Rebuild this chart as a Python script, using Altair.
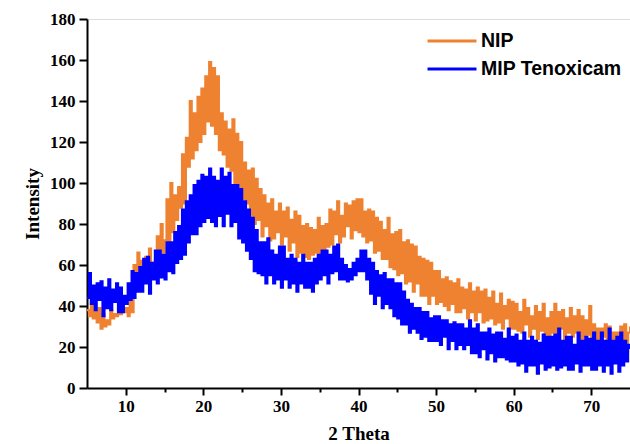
import altair as alt
import pandas as pd

# 2-theta grid: 5.00 .. 75.00 in steps of 0.25 degree
x_start = 5.0
x_step = 0.25

nip = [
    38, 35, 41, 34, 37, 32, 39, 29, 36, 30, 33, 31, 38, 34, 36, 35, 41, 36, 40, 37,
    39, 35, 43, 37, 60, 50, 66, 53, 62, 56, 64, 52, 68, 57, 61, 62, 74, 60, 80, 66,
    72, 92, 70, 100, 76, 94, 82, 98, 88, 114, 90, 122, 108, 140, 112, 134, 116, 142, 120, 146,
    124, 152, 130, 159, 128, 156, 124, 152, 116, 134, 114, 130, 108, 126, 106, 131, 100, 124, 96, 120,
    92, 110, 90, 106, 84, 107, 80, 102, 82, 97, 74, 94, 79, 90, 72, 92, 73, 86, 76, 90,
    70, 86, 74, 88, 67, 82, 71, 86, 64, 84, 66, 79, 64, 80, 63, 78, 65, 77, 66, 83,
    61, 79, 67, 80, 69, 87, 70, 86, 75, 91, 71, 84, 74, 90, 79, 89, 73, 91, 77, 92,
    76, 92, 74, 86, 71, 87, 72, 86, 66, 83, 67, 81, 63, 77, 63, 83, 59, 75, 58, 76,
    55, 77, 56, 71, 51, 72, 52, 70, 47, 69, 51, 64, 45, 63, 45, 62, 41, 61, 45, 57,
    41, 57, 42, 53, 40, 54, 38, 52, 41, 51, 37, 53, 37, 49, 39, 48, 34, 51, 37, 47,
    33, 49, 37, 47, 32, 48, 33, 44, 34, 47, 31, 41, 32, 46, 29, 40, 34, 43, 29, 42,
    29, 41, 28, 37, 27, 43, 31, 39, 25, 35, 29, 40, 24, 37, 28, 41, 26, 34, 25, 37,
    27, 41, 24, 37, 29, 38, 23, 34, 27, 39, 25, 35, 27, 38, 24, 35, 24, 33, 26, 40,
    23, 31, 22, 29, 19, 29, 25, 31, 21, 30, 19, 27, 21, 27, 20, 30, 18, 31, 18, 27,
    30,
]

mip = [
    44, 56, 41, 50, 38, 51, 43, 52, 35, 49, 39, 53, 38, 48, 42, 51, 37, 49, 37, 45,
    41, 51, 43, 57, 44, 56, 47, 59, 47, 63, 51, 64, 46, 61, 53, 67, 51, 67, 54, 65,
    53, 71, 57, 71, 56, 76, 61, 79, 63, 87, 65, 91, 71, 94, 75, 99, 75, 101, 79, 104,
    81, 103, 83, 107, 81, 103, 79, 101, 84, 107, 79, 103, 85, 105, 79, 99, 81, 99, 73, 97,
    71, 91, 67, 87, 63, 83, 57, 77, 56, 71, 55, 71, 51, 73, 55, 67, 51, 65, 53, 69,
    49, 69, 53, 63, 49, 65, 51, 63, 47, 61, 51, 65, 49, 61, 49, 61, 47, 63, 51, 65,
    53, 67, 55, 67, 51, 65, 56, 69, 57, 70, 53, 63, 53, 60, 52, 58, 53, 61, 55, 63,
    57, 67, 57, 67, 53, 63, 46, 61, 41, 57, 45, 55, 39, 56, 41, 53, 39, 53, 35, 51,
    34, 51, 31, 47, 31, 43, 27, 41, 29, 39, 27, 39, 24, 37, 25, 37, 23, 34, 23, 35,
    23, 35, 21, 33, 25, 33, 19, 31, 23, 32, 19, 31, 21, 31, 19, 29, 21, 33, 17, 29,
    17, 31, 15, 27, 19, 27, 14, 29, 17, 26, 13, 27, 15, 27, 15, 24, 14, 29, 13, 25,
    13, 26, 11, 23, 12, 27, 8, 23, 11, 25, 11, 23, 7, 22, 12, 26, 9, 25, 10, 25,
    11, 26, 9, 29, 10, 23, 11, 25, 9, 25, 9, 21, 12, 27, 8, 23, 11, 25, 11, 24,
    9, 27, 9, 23, 11, 27, 8, 23, 11, 29, 7, 23, 12, 25, 8, 27, 11, 23, 13, 21,
    19,
]

series_names = ["NIP", "MIP Tenoxicam"]
series_colors = ["#EF8230", "#0000FF"]
x_ticks = [10, 15, 20, 25, 30, 35, 40, 45, 50, 55, 60, 65, 70]
y_ticks = [0, 20, 40, 60, 80, 100, 120, 140, 160, 180]

theta = [round(x_start + x_step * i, 2) for i in range(len(nip))]
df_nip = pd.DataFrame({"theta": theta, "intensity": nip, "series": "NIP"})
df_mip = pd.DataFrame({"theta": theta, "intensity": mip, "series": "MIP Tenoxicam"})

serif = "Liberation Serif"
sans = "Liberation Sans"

x_enc = alt.X(
    "theta:Q",
    scale=alt.Scale(domain=[5, 75], nice=False, zero=False),
    axis=alt.Axis(
        title="2 Theta",
        values=x_ticks,
        labelExpr="datum.value % 10 === 0 ? datum.label : ''",
        tickSize={"condition": {"test": "datum.value % 10 === 0", "value": 7}, "value": 4},
        grid=False,
        labelFont=serif, labelFontWeight="bold", labelFontSize=17, labelColor="black",
        labelPadding=3,
        titleFont=serif, titleFontWeight="bold", titleFontSize=19, titleColor="black",
        titlePadding=10,
        domainColor="black", domainWidth=2, tickColor="black", tickWidth=2,
    ),
)
y_enc = alt.Y(
    "intensity:Q",
    scale=alt.Scale(domain=[0, 180], nice=False),
    axis=alt.Axis(
        title="Intensity",
        values=y_ticks,
        grid=False,
        tickSize=8,
        labelFont=serif, labelFontWeight="bold", labelFontSize=17, labelColor="black",
        labelPadding=4,
        titleFont=serif, titleFontWeight="bold", titleFontSize=19, titleColor="black",
        titlePadding=7,
        domainColor="black", domainWidth=2, tickColor="black", tickWidth=2,
    ),
)
color_enc = alt.Color(
    "series:N",
    scale=alt.Scale(domain=series_names, range=series_colors),
    legend=alt.Legend(
        title=None,
        orient="none",
        legendX=339,
        legendY=8,
        symbolType="stroke",
        symbolSize=2401,
        symbolStrokeWidth=3,
        clipHeight=28,
        labelFont=sans, labelFontWeight="bold", labelFontSize=19.5, labelColor="black",
        labelOffset=3,
        rowPadding=0,
    ),
)

line_style = dict(strokeWidth=2.2, interpolate="step-after")
nip_line = alt.Chart(df_nip).mark_line(**line_style).encode(x=x_enc, y=y_enc, color=color_enc)
mip_line = alt.Chart(df_mip).mark_line(**line_style).encode(x=x_enc, y=y_enc, color=color_enc)

chart = alt.layer(nip_line, mip_line).properties(
    width=543,
    height=369,
    autosize=alt.AutoSizeParams(type="none"),
    padding={"left": 87, "top": 19, "right": 0, "bottom": 56},
).configure_view(
    stroke="black", strokeWidth=2
).configure(background="white")

chart.save("out.html", embed_options={"renderer": "svg", "actions": False})
